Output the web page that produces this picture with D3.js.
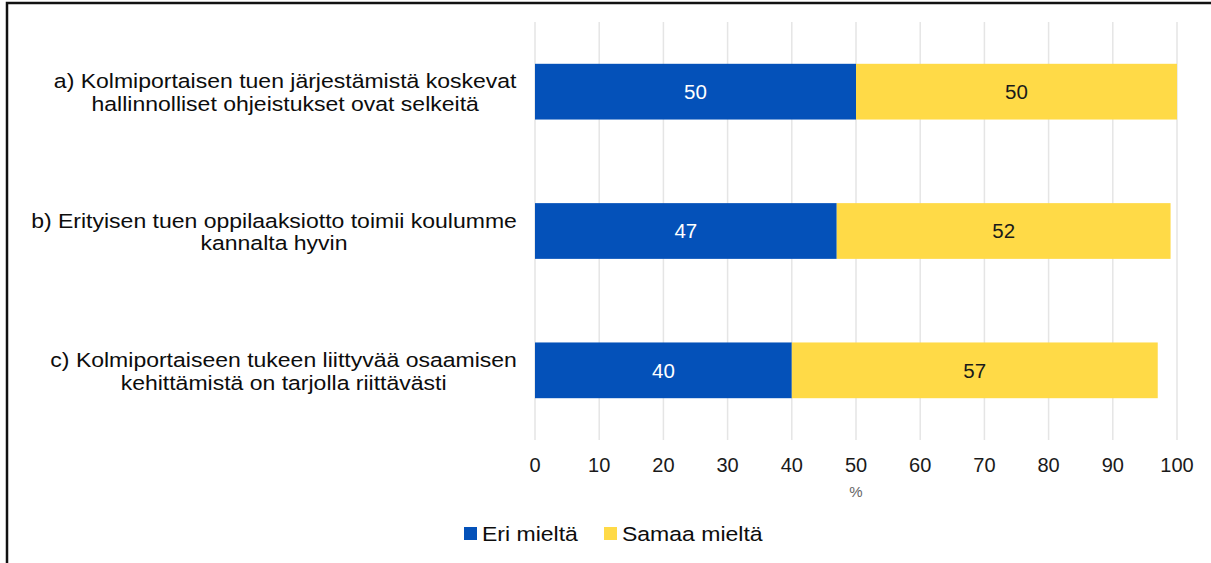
<!DOCTYPE html>
<html>
<head>
<meta charset="utf-8">
<script src="https://cdn.jsdelivr.net/npm/d3@7"></script>
<style>
  body { margin: 0; background: #fff; }
  svg { display: block; font-family: "Liberation Sans", Arial, sans-serif; }
</style>
</head>
<body>
<div id="kuvio"></div>
<script>
// kysymykset (rivit kahdella tekstirivillä)
const kysymykset = [
  ["a) Kolmiportaisen tuen järjestämistä koskevat", "hallinnolliset ohjeistukset ovat selkeitä"],
  ["b) Erityisen tuen oppilaaksiotto toimii koulumme", "kannalta hyvin"],
  ["c) Kolmiportaiseen tukeen liittyvää osaamisen", "kehittämistä on tarjolla riittävästi"]
];
const eriMielta = [50, 47, 40];
const samaaMielta = [50, 52, 57];
const sarjat = ["Eri mieltä", "Samaa mieltä"];
const varit = ["#0451b9", "#ffda47"];
const tikit = [0, 10, 20, 30, 40, 50, 60, 70, 80, 90, 100];

const width = 1211, height = 563;
const venytys = 1.18; // teksti on alkuperäisessä leveämpää

const svg = d3.select("#kuvio").append("svg")
    .attr("width", width)
    .attr("height", height);

// kehys
svg.append("path")
    .attr("d", `M7,${height} L7,3 L${width},3`)
    .attr("fill", "none")
    .attr("stroke", "#111")
    .attr("stroke-width", 2.5);

const x = d3.scaleLinear().domain([0, 100]).range([535, 1177]);
const y = d3.scaleBand().domain(d3.range(kysymykset.length)).range([22, 440]).paddingInner(0.6).paddingOuter(0.3);

// ruudukko
svg.append("g").selectAll("line")
    .data(tikit)
    .enter().append("line")
    .attr("x1", d => x(d)).attr("x2", d => x(d))
    .attr("y1", 22).attr("y2", 440)
    .attr("stroke", "#e5e5e5")
    .attr("stroke-width", 1.5);

const pinot = d3.stack().keys([0, 1])
    .value((d, k) => k === 0 ? eriMielta[d] : samaaMielta[d])(d3.range(kysymykset.length));

const ryhmat = svg.append("g").selectAll("g")
    .data(pinot)
    .enter().append("g")
    .attr("fill", (d, i) => varit[i]);

ryhmat.selectAll("rect")
    .data(d => d)
    .enter().append("rect")
    .attr("x", d => x(d[0]))
    .attr("y", d => y(d.data))
    .attr("width", d => x(d[1]) - x(d[0]))
    .attr("height", y.bandwidth());

ryhmat.selectAll("text")
    .data(d => d.map(v => ({ v: v, s: d.key })))
    .enter().append("text")
    .attr("x", d => (x(d.v[0]) + x(d.v[1])) / 2)
    .attr("y", d => y(d.v.data) + y.bandwidth() / 2)
    .attr("dy", "0.36em")
    .attr("text-anchor", "middle")
    .attr("font-size", 20.5)
    .attr("fill", d => d.s === 0 ? "#fff" : "#1a1a1a")
    .text(d => d.s === 0 ? eriMielta[d.v.data] : samaaMielta[d.v.data]);

// kysymysten tekstit
const otsikot = svg.append("g").selectAll("text")
    .data(kysymykset)
    .enter().append("text")
    .attr("text-anchor", "middle")
    .attr("font-size", 19.5)
    .attr("fill", "#0d0d0d");

otsikot.selectAll("tspan")
    .data(d => d)
    .enter().append("tspan")
    .attr("x", 0)
    .attr("y", (d, i) => i === 0 ? -3.5 : 19.5)
    .text(d => d);

// keskitetyt rivit, oikea reuna 517
otsikot.each(function(d, i) {
    const w = this.getBBox().width * venytys;
    d3.select(this).attr("transform",
        `translate(${517 - w / 2},${y(i) + y.bandwidth() / 2}) scale(${venytys},1)`);
});

// x-akseli
svg.append("g").selectAll("text")
    .data(tikit)
    .enter().append("text")
    .attr("x", d => x(d))
    .attr("y", 472)
    .attr("text-anchor", "middle")
    .attr("font-size", 20)
    .attr("fill", "#1a1a1a")
    .text(d => d);

svg.append("text")
    .attr("x", x(50))
    .attr("y", 497)
    .attr("text-anchor", "middle")
    .attr("font-size", 15)
    .attr("fill", "#666")
    .text("%");

// selite
const selite = svg.append("g").selectAll("g")
    .data(sarjat)
    .enter().append("g")
    .attr("transform", (d, i) => `translate(${i === 0 ? 464 : 604},527)`);

selite.append("rect")
    .attr("width", 13).attr("height", 13)
    .attr("fill", (d, i) => varit[i]);

selite.append("text")
    .attr("transform", `translate(18,14) scale(${venytys},1)`)
    .attr("font-size", 19.5)
    .attr("fill", "#0d0d0d")
    .text(d => d);
</script>
</body>
</html>
